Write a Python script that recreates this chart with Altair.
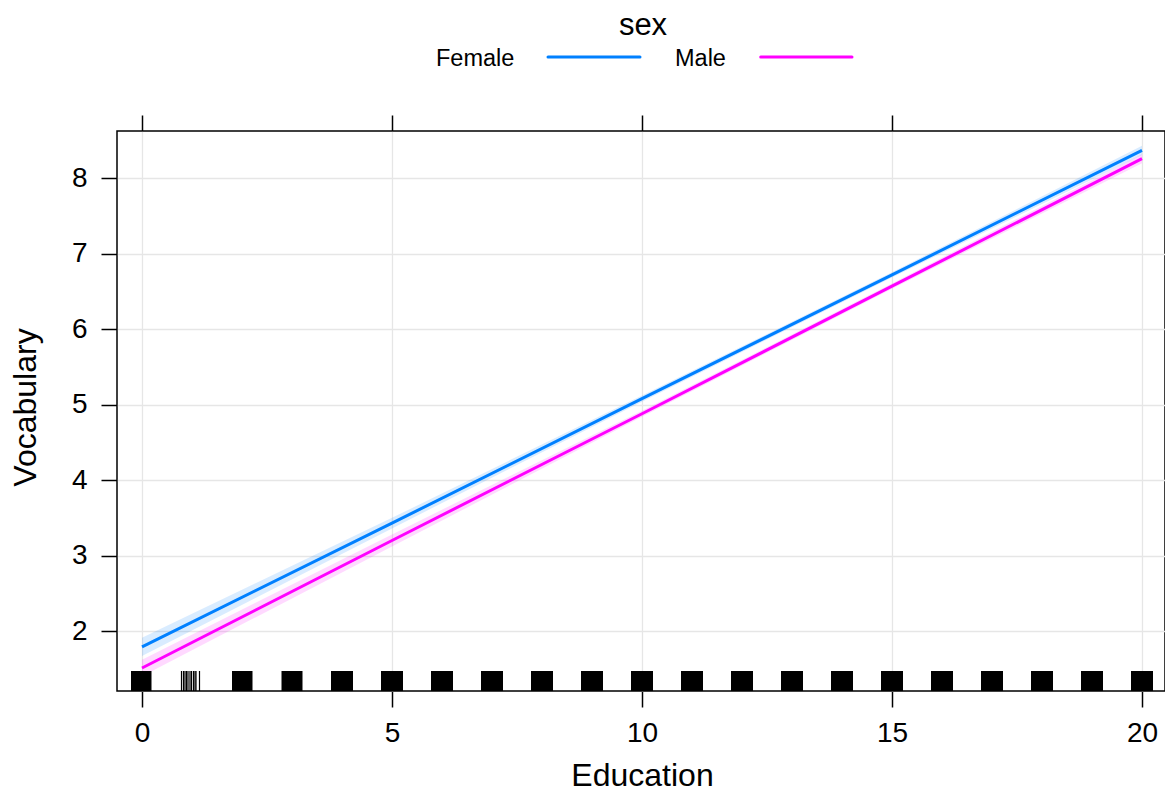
import altair as alt
import pandas as pd

# ---- data ----
education = [0, 5, 10, 15, 20]
female_fit = [1.79, 3.43, 5.08, 6.72, 8.37]
female_lo = [1.67, 3.36, 5.04, 6.685, 8.31]
female_hi = [1.91, 3.50, 5.12, 6.755, 8.43]
male_fit = [1.51, 3.20, 4.88, 6.57, 8.26]
male_lo = [1.40, 3.12, 4.84, 6.535, 8.20]
male_hi = [1.62, 3.28, 4.92, 6.605, 8.32]

sexes = ["Female", "Male"]
line_colors = ["#0080ff", "#ff00ff"]

# rug: dense blocks (lo/hi) and sparse single ticks
rug_lo = [-0.22, 1.80, 2.79, 3.78, 4.78, 5.78, 6.78, 7.78, 8.78, 9.78, 10.78,
          11.78, 12.78, 13.78, 14.78, 15.78, 16.78, 17.78, 18.78, 19.78]
rug_hi = [0.19, 2.21, 3.21, 4.22, 5.22, 6.22, 7.22, 8.22, 9.22, 10.22, 11.22,
          12.22, 13.22, 14.22, 15.22, 16.22, 17.22, 18.22, 19.22, 20.22]
rug_single = [0.79, 0.83, 0.86, 0.89, 0.92, 0.96, 0.99, 1.03, 1.06, 1.08, 1.15]

x_ticks = [0, 5, 10, 15, 20]
y_ticks = [2, 3, 4, 5, 6, 7, 8]

W, H = 1048, 560
FONT = "Liberation Sans"

rows = []
for i, e in enumerate(education):
    rows.append({"Education": e, "sex": "Female", "fit": female_fit[i], "lo": female_lo[i], "hi": female_hi[i]})
    rows.append({"Education": e, "sex": "Male", "fit": male_fit[i], "lo": male_lo[i], "hi": male_hi[i]})
df = pd.DataFrame(rows)

rug_df = pd.DataFrame({"lo": rug_lo, "hi": rug_hi})
rug1_df = pd.DataFrame({"x": rug_single})
leg_df = pd.DataFrame({"sex": sexes, "color": line_colors})

xscale = alt.Scale(domain=[-0.5, 20.46], nice=False, zero=False)
yscale = alt.Scale(domain=[1.205, 8.627], nice=False, zero=False)
cscale = alt.Scale(domain=sexes, range=line_colors)

base = alt.Chart(df)

x_bottom = alt.X("Education:Q", scale=xscale,
                 axis=alt.Axis(values=x_ticks, title="Education", grid=True, orient="bottom",
                               titleY=94, titleBaseline="alphabetic", titleX=525))
y_left = alt.Y("fit:Q", scale=yscale,
               axis=alt.Axis(values=y_ticks, title="Vocabulary", grid=True, orient="left",
                             titleX=-82, titleY=276, titleAngle=-90, titleBaseline="alphabetic"))

bands = base.mark_area(opacity=0.15).encode(
    x=alt.X("Education:Q", scale=xscale, axis=None),
    y=alt.Y("lo:Q", scale=yscale, axis=None),
    y2="hi:Q",
    fill=alt.Fill("sex:N", scale=cscale, legend=None),
)

lines = base.mark_line(strokeWidth=3).encode(
    x=x_bottom,
    y=y_left,
    color=alt.Color("sex:N", scale=cscale, legend=None),
)

# invisible layer carrying top / right axes
frame_axes = base.mark_point(opacity=0).encode(
    x=alt.X("Education:Q", scale=xscale,
            axis=alt.Axis(values=x_ticks, orient="top", labels=False, title=None, grid=False)),
    y=alt.Y("fit:Q", scale=yscale,
            axis=alt.Axis(values=y_ticks, orient="right", labels=False, title=None, grid=False)),
)

rug = alt.Chart(rug_df).mark_rect(color="black").encode(
    x=alt.X("lo:Q", scale=xscale, axis=None),
    x2="hi:Q",
    y=alt.value(H - 20),
    y2=alt.value(H),
)
rug1 = alt.Chart(rug1_df).mark_rule(color="black", strokeWidth=1.2).encode(
    x=alt.X("x:Q", scale=xscale, axis=None),
    y=alt.value(H - 20),
    y2=alt.value(H),
)

# manual lattice-style key: label, then line
leg_title = alt.Chart(pd.DataFrame({"t": ["sex"]})).mark_text(
    font=FONT, fontSize=31, baseline="alphabetic", align="center"
).encode(text="t:N", x=alt.value(526), y=alt.value(-96))

legend_layers = [leg_title]
label_x = [319, 558]
line_x = [431, 643.7]
line_x2 = [523, 735]
for i, s in enumerate(sexes):
    sub = alt.Chart(leg_df).transform_filter(alt.datum.sex == s)
    legend_layers.append(
        sub.mark_text(font=FONT, fontSize=23.5, baseline="alphabetic", align="left").encode(
            text="sex:N", x=alt.value(label_x[i]), y=alt.value(-65))
    )
    legend_layers.append(
        sub.mark_rule(strokeWidth=3, strokeCap="round", color=line_colors[i]).encode(
            x=alt.value(line_x[i]), x2=alt.value(line_x2[i]), y=alt.value(-74))
    )

chart = alt.layer(bands, lines, frame_axes, rug, rug1, *legend_layers).properties(
    width=W, height=H,
    autosize=alt.AutoSizeParams(type="none"),
    padding={"left": 109, "top": 123, "right": 0, "bottom": 102},
).configure_view(
    stroke="black", strokeWidth=1.5
).configure_axis(
    domain=False,
    tickColor="black", tickWidth=1.5, tickSize=16,
    labelFont=FONT, labelFontSize=28, labelColor="black", labelPadding=12,
    titleFont=FONT, titleFontSize=32, titleColor="black", titleFontWeight="normal",
    gridColor="#e6e6e6", gridWidth=1.3,
).configure_axisLeft(
    labelPadding=14
)

chart.save("out.html", embed_options={"renderer": "svg", "actions": False})
